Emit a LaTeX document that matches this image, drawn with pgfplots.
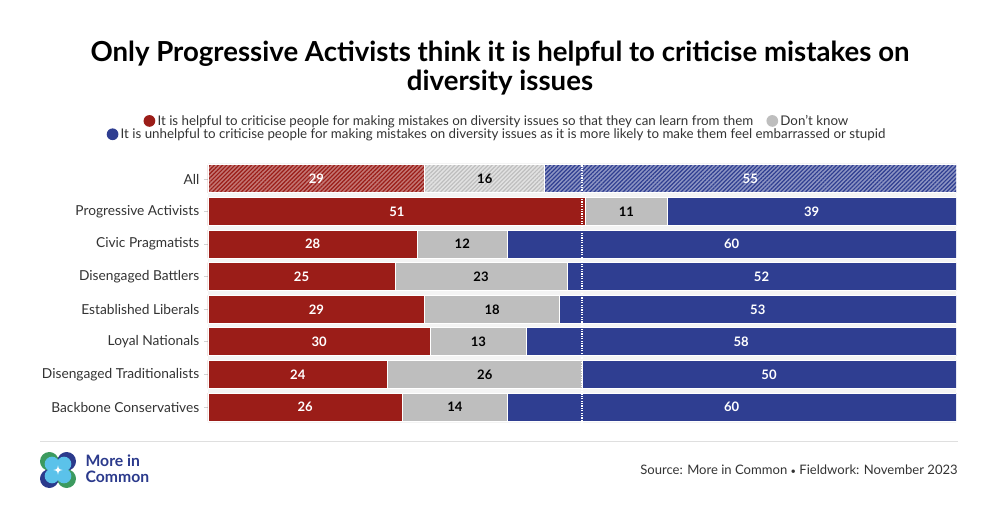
\documentclass[border=0pt]{standalone}
\usepackage{pgfplots}
\pgfplotsset{compat=1.18}
\usepackage{pgfplotstable}
\usetikzlibrary{patterns.meta}
\usepackage{fontspec}
\setmainfont{Lato}
\definecolor{cred}{HTML}{9B1D18}
\definecolor{cgrey}{HTML}{BEBEBE}
\definecolor{cblue}{HTML}{2F3E91}
\definecolor{bgcol}{HTML}{F4F4F4}
\definecolor{labcol}{HTML}{333333}
\definecolor{logoblue}{HTML}{2B3A8C}
\definecolor{logogreen}{HTML}{3C9A5F}
\definecolor{logolight}{HTML}{5BC2EA}

\pgfplotstableread{
y r g b
7 29 16 55
6 50.50 10.89 38.61
5 28 12 60
4 25 23 52
3 29 18 53
2 29.70 12.87 57.43
1 24 26 50
0 26 14 60
}\data

\pgfplotstableread{
y r g b
7 29 16 55
}\alldata

\pgfplotstableread{
y rc rl gc gl bc bl
7 14.5 29 37 16 72.5 55
6 25.25 51 55.945 11 80.695 39
5 14 28 34 12 70 60
4 12.5 25 36.5 23 74 52
3 14.5 29 38 18 73.5 53
2 14.85 30 36.145 13 71.285 58
1 12 24 37 26 75 50
0 13 26 33 14 70 60
}\labels

\pgfplotsset{
  common/.style={
    scale only axis, width=561pt, height=195.5pt,
    at={(156pt,63.5pt)}, anchor=south west,
    xmin=0, xmax=100, ymin=-0.5, ymax=7.5,
  }
}
\newcommand{\vfont}{\fontsize{9.8}{11}\selectfont\bfseries}

\begin{document}
\begin{tikzpicture}
\useasboundingbox (0,0) rectangle (750pt,381pt);

% Title
\node[anchor=base, font=\fontsize{20.7}{24}\selectfont\bfseries, text=black] at (375pt,334.5pt) {Only Progressive Activists think it is helpful to criticise mistakes on};
\node[anchor=base, font=\fontsize{20.7}{24}\selectfont\bfseries, text=black] at (375pt,313pt) {diversity issues};

% Legend
\node[anchor=base, font=\fontsize{10}{11}\selectfont, text=labcol, inner sep=0pt] at (372pt,287pt)
 {\tikz[baseline=-0.65ex]\fill[cred] (0,0) circle (4.4pt);\,It is helpful to criticise people for making mistakes on diversity issues so that they can learn from them\quad
  \tikz[baseline=-0.65ex]\fill[cgrey] (0,0) circle (4.4pt);\,Don't know};
\node[anchor=base, font=\fontsize{10}{11}\selectfont, text=labcol, inner sep=0pt] at (372pt,277pt)
 {\tikz[baseline=-0.65ex]\fill[cblue] (0,0) circle (4.4pt);\,It is unhelpful to criticise people for making mistakes on diversity issues as it is more likely to make them feel embarrassed or stupid};

% Main bars
\begin{axis}[common,
  xbar stacked, bar width=21pt,
  axis background/.style={fill=bgcol},
  axis line style={draw=none},
  xtick=\empty,
  ytick={0,...,7},
  yticklabels={Backbone Conservatives, Disengaged Traditionalists, Loyal Nationals, Established Liberals, Disengaged Battlers, Civic Pragmatists, Progressive Activists, All},
  ytick pos=left, tick align=outside, major tick length=3pt,
  ytick style={draw=gray!35, line width=0.6pt},
  yticklabel style={font=\fontsize{10.3}{12}\selectfont, text=labcol},
]
\addplot[fill=cred, draw=white, line width=0.7pt] table[x=r,y=y]{\data};
\addplot[fill=cgrey, draw=white, line width=0.7pt] table[x=g,y=y]{\data};
\addplot[fill=cblue, draw=white, line width=0.7pt] table[x=b,y=y]{\data};
\end{axis}

% Hatching on All row
\begin{axis}[common, axis lines=none, xbar stacked, bar width=21pt]
\addplot[fill=cred!60!white, draw=white, line width=0.7pt, postaction={pattern={Lines[angle=45,distance=2.2pt,line width=0.9pt]}, pattern color=cred}] table[x=r,y=y]{\alldata};
\addplot[fill=cgrey!45!white, draw=white, line width=0.7pt, postaction={pattern={Lines[angle=45,distance=2.2pt,line width=0.9pt]}, pattern color=cgrey}] table[x=g,y=y]{\alldata};
\addplot[fill=cblue!55!white, draw=white, line width=0.7pt, postaction={pattern={Lines[angle=45,distance=2.2pt,line width=0.9pt]}, pattern color=cblue}] table[x=b,y=y]{\alldata};
\end{axis}

% Labels and 50% line
\begin{axis}[common, axis lines=none, clip=false]
\draw[white, densely dotted, line width=0.8pt] (axis cs:50,-0.5) -- (axis cs:50,7.5);
\addplot[only marks, mark=none, nodes near coords, point meta=explicit symbolic,
  every node near coord/.style={anchor=center, text=white, font=\vfont}] table[x=rc,y=y,meta=rl]{\labels};
\addplot[only marks, mark=none, nodes near coords, point meta=explicit symbolic,
  every node near coord/.style={anchor=center, text=black, font=\vfont}] table[x=gc,y=y,meta=gl]{\labels};
\addplot[only marks, mark=none, nodes near coords, point meta=explicit symbolic,
  every node near coord/.style={anchor=center, text=white, font=\vfont}] table[x=bc,y=y,meta=bl]{\labels};
\end{axis}

% Footer
\draw[gray!25, line width=0.6pt] (30pt,50.25pt) -- (718.5pt,50.25pt);
\node[anchor=base east, font=\fontsize{9.8}{12}\selectfont, text=labcol, inner sep=0pt] at (718.5pt,25.5pt) {Source: More in Common {\fontsize{7}{8}\selectfont\textbullet} Fieldwork: November 2023};

% Logo
\begin{scope}[shift={(43.5pt,28.5pt)}]
\fill[logogreen] (-6.5pt,6.5pt) circle (7pt);
\fill[logoblue] (6.5pt,6.5pt) circle (7pt);
\fill[logoblue] (-6.5pt,-6.5pt) circle (7pt);
\fill[logogreen] (6.5pt,-6.5pt) circle (7pt);
\fill[logolight] (-4.5pt,4.5pt) circle (5.5pt);
\fill[logolight] (4.5pt,4.5pt) circle (5.5pt);
\fill[logolight] (-4.5pt,-4.5pt) circle (5.5pt);
\fill[logolight] (4.5pt,-4.5pt) circle (5.5pt);
\fill[white] (0,3.5pt) .. controls (0.6pt,0.6pt) .. (3.5pt,0) .. controls (0.6pt,-0.6pt) .. (0,-3.5pt) .. controls (-0.6pt,-0.6pt) .. (-3.5pt,0) .. controls (-0.6pt,0.6pt) .. (0,3.5pt);
\end{scope}
\node[anchor=base west, font=\fontsize{11.8}{12}\selectfont\bfseries, text=logoblue, inner sep=0pt, align=left] at (64pt,31pt) {More in};
\node[anchor=base west, font=\fontsize{11.8}{12}\selectfont\bfseries, text=logoblue, inner sep=0pt, align=left] at (64pt,19pt) {Common};
\end{tikzpicture}
\end{document}
